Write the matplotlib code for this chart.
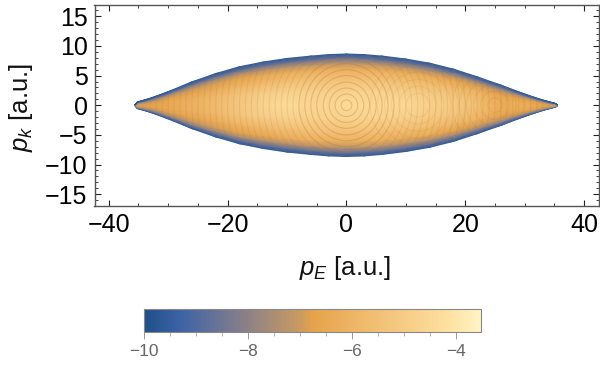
import numpy as np
import matplotlib
matplotlib.use('Agg')
import matplotlib.pyplot as plt
from matplotlib.colors import LinearSegmentedColormap, Normalize
from matplotlib.patches import Circle, Polygon
from matplotlib.ticker import MultipleLocator

plt.rcParams['font.family'] = ['Liberation Sans', 'DejaVu Sans']
plt.rcParams['mathtext.fontset'] = 'custom'
plt.rcParams['mathtext.it'] = 'Liberation Sans:italic'
plt.rcParams['mathtext.rm'] = 'Liberation Sans'

# columns along p_E, and half height of the lobe there
p_e = [-35.6, -35.2, -33, -30, -26, -22, -18, -14, -10, -6, -3, 0, 3, 6, 10, 14, 18, 22, 26, 30, 33, 35.2, 35.5]
half_height = [0.05, 0.55, 1.2, 2.3, 3.95, 5.35, 6.5, 7.3, 7.9, 8.3, 8.55, 8.65, 8.55, 8.3, 7.8, 7.1, 6.1, 4.8, 3.4, 1.9, 0.9, 0.3, 0.05]

# fraction of the half height for each row of the table
fractions = [0, 0.25, 0.5, 0.7, 0.82, 0.92, 1]

row_0 = [-7.4, -6.9, -6.7, -6.4, -6.1, -5.7, -5.2, -4.7, -4.4, -4.6, -4.6, -4.4, -4.5, -4.5, -4.5, -4.8, -5.0, -5.5, -6.4, -6.2, -6.6, -7.1, -7.5]
row_1 = [-7.5, -7.0, -6.8, -6.5, -6.2, -5.8, -5.3, -4.9, -4.7, -4.8, -4.8, -4.7, -4.7, -4.7, -4.8, -5.0, -5.2, -5.7, -6.4, -6.3, -6.7, -7.2, -7.6]
row_2 = [-7.8, -7.4, -7.2, -6.8, -6.6, -6.3, -6.0, -5.7, -5.5, -5.4, -5.4, -5.4, -5.4, -5.4, -5.5, -5.6, -5.8, -6.1, -6.7, -6.7, -7.0, -7.4, -7.9]
row_3 = [-8.4, -8.1, -7.9, -7.4, -7.1, -6.9, -6.7, -6.5, -6.3, -6.2, -6.2, -6.2, -6.2, -6.2, -6.3, -6.4, -6.6, -6.9, -7.2, -7.3, -7.7, -8.1, -8.5]
row_4 = [-9.0, -8.8, -8.6, -8.2, -7.9, -7.7, -7.5, -7.4, -7.3, -7.2, -7.2, -7.2, -7.2, -7.2, -7.3, -7.4, -7.5, -7.7, -8.0, -8.2, -8.5, -8.8, -9.1]
row_5 = [-9.6, -9.4, -9.3, -9.2, -9.0, -8.9, -8.8, -8.7, -8.7, -8.6, -8.6, -8.6, -8.6, -8.6, -8.7, -8.7, -8.8, -8.9, -9.0, -9.2, -9.3, -9.4, -9.6]
row_6 = [-9.9, -9.8, -9.7, -9.6, -9.6, -9.6, -9.6, -9.6, -9.6, -9.6, -9.6, -9.6, -9.6, -9.6, -9.6, -9.6, -9.6, -9.6, -9.6, -9.6, -9.7, -9.8, -9.9]

# interference rings seen in the picture: centre on the p_E axis and radii
rings_inner = [0.9, 1.9, 2.9, 3.9, 5.0, 6.0, 7.0, 8.0]
rings_outer = [9.0, 10.0, 11.0, 12.0, 13.0, 14.0, 15.0, 16.0, 17.0, 18.0, 19.0, 20.0, 21.0, 22.0, 23.0, 24.0, 25.0, 26.0, 27.0, 28.0, 29.0, 30.0, 31.0, 32.0, 33.0]
rings_12 = [2.0, 3.2, 4.4, 5.6, 6.8, 8.0]
rings_25 = [1.2, 2.4, 3.6, 4.8, 6.0, 7.2]

cbar_ticks = [-10, -8, -6, -4]

colors = [(0.0, '#1f4f88'), (0.11, '#3e63a6'), (0.3, '#8a8088'), (0.46, '#c99a62'),
          (0.5, '#e5a24a'), (0.62, '#eeb566'), (0.78, '#f6cd87'), (0.9, '#fee09f'), (1.0, '#fff4c6')]
cmap = LinearSegmentedColormap.from_list('sunset', colors, N=256)
norm = Normalize(-10, -3.52)

rows = np.array([row_0, row_1, row_2, row_3, row_4, row_5, row_6])
h = np.array(half_height)
frac = np.array(fractions)

# mirror the table around p_k = 0
signed = np.concatenate([-frac[:0:-1], frac])
z = np.concatenate([rows[:0:-1], rows])
x = np.tile(np.array(p_e), (len(signed), 1))
y = np.outer(signed, h)

fig = plt.figure(figsize=(6, 3.72), dpi=100)
ax = fig.add_axes([94.5 / 600, 1 - 206 / 372, (599 - 94.5) / 600, (206 - 4.5) / 372])

mesh = ax.pcolormesh(x, y, z, shading='gouraud', cmap=cmap, norm=norm, rasterized=True)

outline = np.concatenate([np.column_stack([p_e, h]), np.column_stack([p_e, -h])[::-1]])
clip = Polygon(outline, closed=True, transform=ax.transData, fc='none', ec='none')
ax.add_patch(clip)

for centre, radii, alpha in [(0, rings_inner, 0.3), (0, rings_outer, 0.16), (12, rings_12, 0.1), (25, rings_25, 0.14)]:
    for r in radii:
        c = Circle((centre, 0), r, fill=False, ec='#b5752c', lw=0.8, alpha=alpha)
        ax.add_patch(c)
        c.set_clip_path(clip)

ax.set_xlim(-42.4, 42.5)
ax.set_ylim(-17, 17)
ax.xaxis.set_major_locator(MultipleLocator(20))
ax.xaxis.set_minor_locator(MultipleLocator(5))
ax.yaxis.set_major_locator(MultipleLocator(5))
ax.yaxis.set_minor_locator(MultipleLocator(1))
ax.tick_params(which='major', direction='in', length=4.0, width=0.8, top=True, right=True, labelsize=18, pad=5, color='#222222')
ax.tick_params(which='minor', direction='in', length=2.2, width=0.6, top=True, right=True, color='#222222')
for s in ax.spines.values():
    s.set_color('#555555')
    s.set_linewidth(1.0)

fig.text(345 / 600, 1 - 268 / 372, r'$p_E$ [a.u.]', fontsize=18.5, ha='center', va='center', color='#111111')
fig.text(21 / 600, 1 - 107 / 372, r'$p_k$ [a.u.]', fontsize=18.5, ha='center', va='center', rotation=90, color='#111111')

cax = fig.add_axes([144 / 600, 1 - 332 / 372, (481 - 144) / 600, 23 / 372])
cb = fig.colorbar(mesh, cax=cax, orientation='horizontal')
cb.set_ticks(cbar_ticks)
cb.ax.xaxis.set_minor_locator(MultipleLocator(0.5))
cb.ax.tick_params(which='major', length=5, width=0.7, color='#999999', labelcolor='#666666', labelsize=12.5, pad=4)
cb.ax.tick_params(which='minor', length=3, width=0.6, color='#aaaaaa')
cb.outline.set_edgecolor('#888888')
cb.outline.set_linewidth(0.8)

fig.savefig('out.png', dpi=100)
